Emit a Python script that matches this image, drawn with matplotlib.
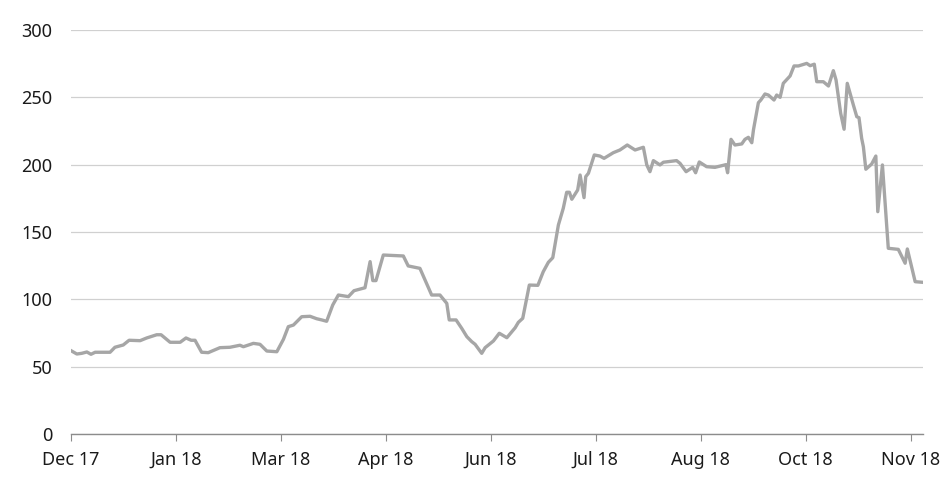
import numpy as np
import pandas as pd
import matplotlib
matplotlib.use("Agg")
import matplotlib.pyplot as plt

start = pd.Timestamp("2017-12-13")
days = [0, 2.5, 4.5, 6.6, 8.3, 10, 16.1, 18.1, 21.5, 23.9, 28.4, 31.1, 35.2, 37,
        40.7, 44.8, 47.2, 49.3, 50.9, 53.6, 56.3, 61.1, 65.2, 69.3, 70.7, 74.8,
        77.5, 80.3, 84.4, 87.1, 89.1, 91.2, 94.6, 98, 100.7, 102.8, 104.8, 107.3,
        109.6, 113.7, 116, 120.5, 122.6, 123.7, 125, 128, 136.2, 138.2, 143,
        147.8, 151.2, 154, 155, 157.8, 160.1, 162.2, 164.2, 165.6, 168.3, 169.7,
        173.1, 175.5, 178.6, 182, 183.3, 185.1, 187.8, 191.3, 193.5, 195.6, 197.4,
        199.7, 201.7, 203.1, 204.2, 205.2, 207.6, 208.6, 210.2, 210.9, 212, 214.4,
        216.7, 218.4, 222.2, 224.9, 227.9, 231.1, 234.5, 235.9, 237.2, 238.6,
        241.3, 242.7, 248.1, 249.5, 252, 254.7, 255.9, 257.4, 260.4, 263.8, 268.3,
        269, 270.4, 272, 274.8, 276.1, 277.5, 278.9, 279.6, 281.6, 282.6, 284.3,
        285.7, 288, 289.1, 290.5, 291.8, 294.6, 296.2, 298, 301.4, 302.8, 304.5,
        305.5, 308.2, 310.3, 312.3, 313.4, 315.3, 316.7, 318, 320.5, 321.9, 322.8,
        323.9, 324.6, 325.6, 328, 329.7, 330.5, 332.4, 334.8, 338.9, 341.7, 342.6,
        344, 345.8, 348.5]
spread = [62, 59.4, 59.9, 60.9, 59.2, 60.7, 60.7, 64.4, 66.1, 69.6, 69.3, 71.3, 73.7, 73.7,
          68.1, 68.1, 71.3, 69.6, 69.6, 60.7, 60.4, 64.1, 64.4, 65.9, 64.8, 67.3,
          66.6, 61.6, 61.1, 70.3, 79.7, 80.9, 87.1, 87.4, 85.6, 84.7, 83.7, 95.8,
          103.2, 102, 106.4, 108.6, 128, 113.9, 113.9, 132.9, 132.2, 124.8, 123,
          103.2, 103.2, 97, 84.7, 84.7, 78.5, 72.3, 68.6, 66.6, 59.9, 64.1,
          69.1, 74.8, 71.5, 78.9, 82.9, 85.9, 110.6, 110.4, 120.5, 127.5, 130.9,
          155.2, 167.6, 179.5, 179.5, 174.3, 181.2, 192.3, 175.5, 191.1, 193.6, 207.2,
          206.4, 204.7, 208.9, 210.9, 214.6, 210.9, 212.9, 199.8, 194.8, 203,
          199.8, 201.8, 203, 201, 194.8, 198, 194, 202, 198.5, 198, 200,
          194, 218.8, 214.6, 215.4, 218.8, 220.3, 216.3, 226, 246, 248, 252.5,
          251.7, 248, 251.7, 250, 260.4, 265.9, 273.3, 273.3, 275.2, 273.5, 274.6,
          261.6, 261.6, 258.4, 269.8, 262.9, 238.2, 226.3, 260.4, 244.3, 235.6, 234.9,
          219.5, 213.3, 196.6, 200.5, 206.4, 165.1, 199.8, 137.9, 137.1, 126.8, 137.4,
          126.8, 113.1, 112.7]
yticks = [0, 50, 100, 150, 200, 250, 300]

dates = start + pd.to_timedelta(days, unit="D")
tick_dates = pd.date_range(start, periods=9, freq="43D")

plt.rcParams["font.family"] = ["Noto Sans", "DejaVu Sans"]
fig = plt.figure(figsize=(9.52, 4.91), dpi=100)
ax = fig.add_axes([0.0743, 0.1161, 0.8952, 0.8228])

ax.plot(dates, spread, color="#a6a6a6", lw=2.4, solid_joinstyle="round")

ax.set_ylim(0, 300)
ax.set_xlim(start, start + pd.Timedelta(days=349))
ax.set_yticks(yticks)
ax.set_xticks(tick_dates)
ax.set_xticklabels([d.strftime("%b %y") for d in tick_dates])

ax.grid(axis="y", color="#d0d0d0", lw=0.9)
ax.set_axisbelow(True)
for s in ["top", "right", "left"]:
    ax.spines[s].set_visible(False)
ax.spines["bottom"].set_color("#8c8c8c")
ax.spines["bottom"].set_linewidth(1)
ax.tick_params(axis="y", length=0, pad=13, labelsize=13, labelcolor="#1a1a1a")
ax.tick_params(axis="x", length=5, color="#8c8c8c", pad=7, labelsize=13,
               labelcolor="#1a1a1a")

fig.savefig("out.png", dpi=100)
